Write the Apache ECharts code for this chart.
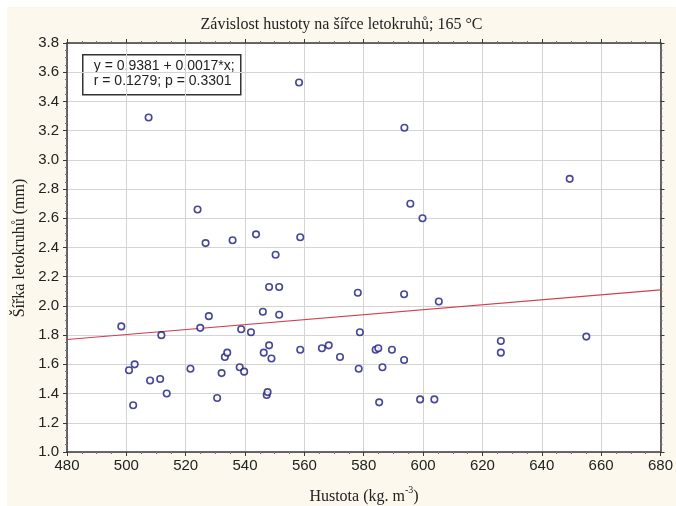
<!DOCTYPE html>
<html>
<head>
<meta charset="utf-8">
<script src="https://cdn.jsdelivr.net/npm/echarts@6/dist/echarts.min.js"></script>
<style>
html,body{margin:0;padding:0;background:#ffffff;}
#wrap{position:relative;width:676px;height:506px;background:#ffffff;overflow:hidden;}
#chart{position:absolute;left:7px;top:7px;width:669px;height:499px;}
</style>
</head>
<body>
<div id="wrap"><div id="chart"></div></div>
<script>
// Data
const density = [498.3,500.9,502.8,502.3,507.5,508.0,511.4,511.8,513.6,521.6,524.0,524.9,526.7,527.8,530.6,532.1,533.2,534.0,535.8,538.2,538.7,539.7,542.0,543.7,546.0,546.3,547.3,547.6,548.1,548.1,548.9,550.3,551.5,551.5,558.2,558.6,558.6,565.9,568.2,572.0,578.0,578.3,578.7,584.0,584.9,585.2,586.3,589.5,593.6,593.6,593.7,595.7,599.0,599.8,603.8,605.3,626.2,626.2,649.4,655.0];
const ringWidth = [1.86,1.56,1.60,1.32,3.29,1.49,1.50,1.80,1.40,1.57,2.66,1.85,2.43,1.93,1.37,1.54,1.65,1.68,2.45,1.58,1.84,1.55,1.82,2.49,1.96,1.68,1.39,1.41,2.13,1.73,1.64,2.35,2.13,1.94,3.53,2.47,1.70,1.71,1.73,1.65,2.09,1.57,1.82,1.70,1.71,1.34,1.58,1.70,2.08,1.63,3.22,2.70,1.36,2.60,1.36,2.03,1.76,1.68,2.87,1.79];
const fitX = [480, 680];
const fitY = [1.77, 2.11];
const xRange = [480, 680, 20];
const yRange = [1.0, 3.8, 0.2];
const titleText = 'Závislost hustoty na šířce letokruhů; 165 °C';
const xName = 'Hustota (kg. m';
const xNameSup = '-3';
const yName = 'Šířka letokruhů (mm)';
const eqLine1 = 'y = 0.9381 + 0.0017*x;';
const eqLine2 = 'r = 0.1279; p = 0.3301';

const scatterData = density.map((x, i) => [x, ringWidth[i]]);
const fitData = fitX.map((x, i) => [x, fitY[i]]);

const chart = echarts.init(document.getElementById('chart'), null, {renderer: 'canvas'});
const frame = '#3a3a3a';
const tickFont = {fontFamily: 'Liberation Sans, Arial, sans-serif', fontSize: 15, color: '#222'};

function mkAxis(type, pos, range, showLabel, margin) {
  return {
    type: 'value', position: pos,
    min: range[0], max: range[1], interval: range[2],
    axisLine: {show: true, onZero: false, lineStyle: {color: frame, width: 1.5}},
    axisTick: {show: true, length: 4, lineStyle: {color: frame}},
    minorTick: {show: true, splitNumber: 4, length: 2, lineStyle: {color: '#777'}},
    splitLine: {show: showLabel, lineStyle: {color: '#d4d4d4', width: 1}},
    axisLabel: showLabel ? Object.assign({show: true, margin: margin,
      formatter: v => (type === 'y' ? v.toFixed(1) : String(Math.round(v)))}, tickFont) : {show: false}
  };
}

const option = {
  backgroundColor: '#fcf8ed',
  animation: false,
  title: {
    text: titleText, left: 'center', top: 5,
    textStyle: {fontFamily: 'Liberation Serif, Times New Roman, serif', fontSize: 16, fontWeight: 'normal', color: '#222'}
  },
  grid: {left: 60, top: 36, right: 15, bottom: 54, show: true, backgroundColor: '#ffffff', borderWidth: 0},
  xAxis: [mkAxis('x', 'bottom', xRange, true, 6), mkAxis('x', 'top', xRange, false, 6)],
  yAxis: [mkAxis('y', 'left', yRange, true, 8), mkAxis('y', 'right', yRange, false, 8)],
  series: [
    {
      type: 'line', data: fitData, xAxisIndex: 0, yAxisIndex: 0,
      symbol: 'none', lineStyle: {color: '#d0404f', width: 1.2}, z: 2
    },
    {
      type: 'scatter', data: scatterData, xAxisIndex: 0, yAxisIndex: 0,
      symbol: 'circle', symbolSize: 6.5,
      itemStyle: {color: '#ffffff', borderColor: '#1a1a80', borderWidth: 1.6}, z: 3
    }
  ],
  graphic: [
    {
      type: 'group', left: 75, top: 47, z: 10,
      children: [
        {type: 'rect', shape: {x: 0, y: 0, width: 158, height: 40},
         style: {fill: '#ffffff', stroke: '#333', lineWidth: 1.5}},
        {type: 'text', left: 11, top: 4,
         style: {text: eqLine1 + '\n' + eqLine2, font: '14px "Liberation Sans", Arial, sans-serif', fill: '#222', lineHeight: 15}}
      ]
    },
    {
      type: 'text', rotation: Math.PI / 2, z: 10, x: 13, y: 241,
      style: {text: yName, font: '16px "Liberation Serif", "Times New Roman", serif', fill: '#222', textAlign: 'center', textVerticalAlign: 'middle'}
    },
    {
      type: 'text', z: 10, x: 357, y: 488,
      style: {
        text: '{a|' + xName + '}{s|' + xNameSup + '}{a|)}',
        textAlign: 'center', textVerticalAlign: 'middle',
        rich: {
          a: {fontFamily: 'Liberation Serif, Times New Roman, serif', fontSize: 16, fill: '#222', color: '#222', lineHeight: 20, verticalAlign: 'bottom'},
          s: {fontFamily: 'Liberation Serif, Times New Roman, serif', fontSize: 10, fill: '#222', color: '#222', lineHeight: 20, verticalAlign: 'top', padding: [0, 0, 7, 0]}
        }
      }
    }
  ]
};
chart.setOption(option);
</script>
</body>
</html>
